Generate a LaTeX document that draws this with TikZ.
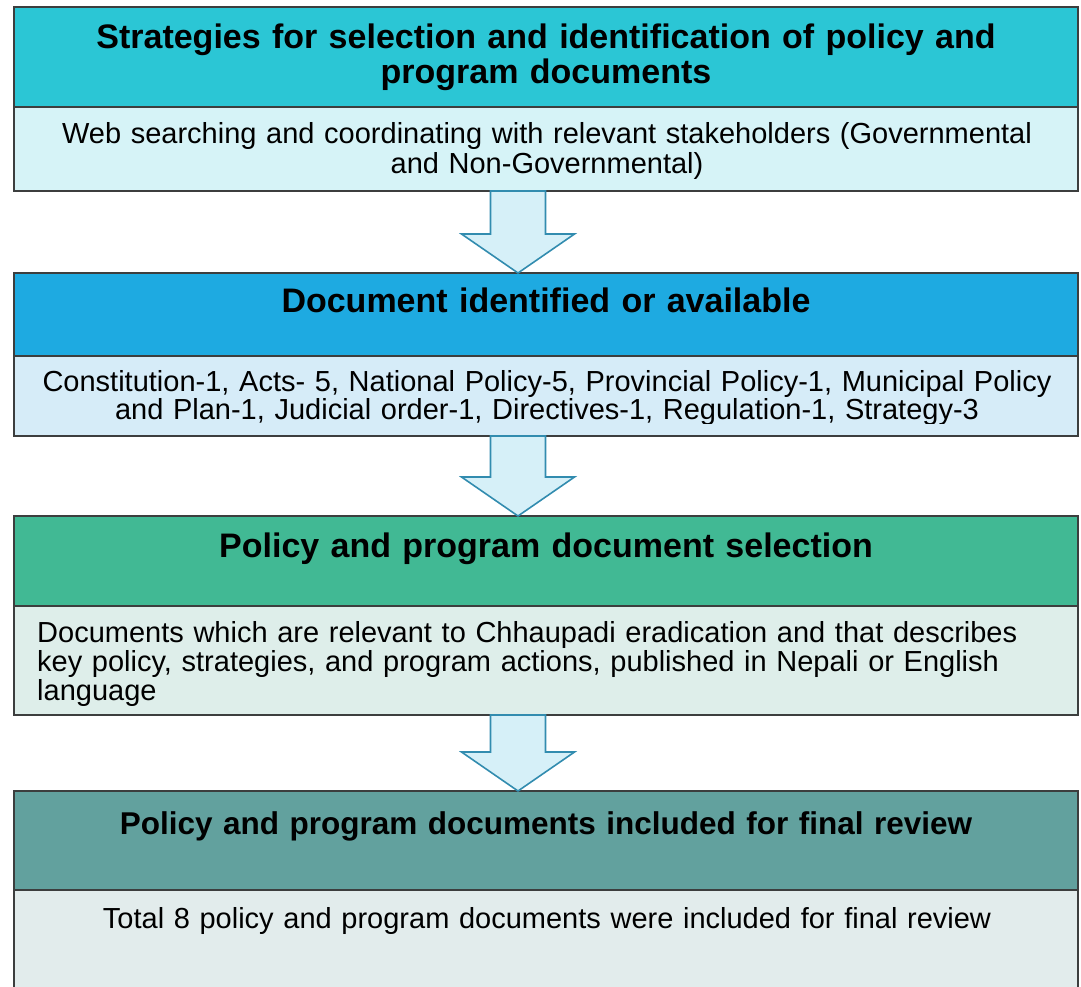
\documentclass[tikz,border=0pt]{standalone}
\usepackage{fontspec}
\setmainfont{Liberation Sans}
\usetikzlibrary{positioning, calc}
\definecolor{stratcyan}{RGB}{43,198,213}
\definecolor{stratlight}{RGB}{214,243,247}
\definecolor{docblue}{RGB}{30,170,225}
\definecolor{doclight}{RGB}{214,236,248}
\definecolor{selgreen}{RGB}{65,185,148}
\definecolor{sellight}{RGB}{222,238,234}
\definecolor{finalteal}{RGB}{98,161,158}
\definecolor{finallight}{RGB}{226,236,236}
\definecolor{boxline}{RGB}{60,62,62}
\definecolor{arrowfill}{RGB}{214,240,248}
\definecolor{arrowline}{RGB}{50,140,175}

\tikzset{
  stagebox/.style={draw=boxline, line width=1.6pt, rectangle, minimum width=1064pt,
    inner sep=0pt, outer sep=0pt},
  headtext/.style={font=\bfseries\fontsize{#1}{35}\selectfont, text width=1060pt,
    align=center, inner sep=0pt, anchor=base},
  headtext/.default=34,
  bodytext/.style={font=\fontsize{29}{#1}\selectfont, text width=1060pt,
    align=center, inner sep=0pt, anchor=base},
  bodytext/.default=30,
  flowarrow/.style={draw=arrowline, fill=arrowfill, line width=1.6pt, line join=miter}
}

% block arrow from the bottom of one stage to the top of the next
\newcommand{\blockarrow}[2]{%
  \draw[flowarrow] let \p1=($(#1.south west)+(504pt,0)$), \p2=($(#2.north west)+(504pt,0)$) in
    (\x1-27.5,\y1) -- (\x1+27.5,\y1) -- (\x1+27.5,\y2+39) -- (\x1+56.5,\y2+39)
    -- (\x1,\y2) -- (\x1-56.5,\y2+39) -- (\x1-27.5,\y2+39) -- cycle;
}

\begin{document}
\begin{tikzpicture}[x=1pt, y=-1pt]
\useasboundingbox (0,0) rectangle (1081,987);

% =============================================================================
% STAGE 1 : strategies
% =============================================================================
\node[stagebox, fill=stratcyan, minimum height=100pt, anchor=north west] (h1) at (14,7) {};
\node[stagebox, fill=stratlight, minimum height=84pt, below=0pt of h1] (b1) {};
\node[headtext] (h1text) at (546,49) {Strategies for selection and identification of policy and\\program documents};
\node[bodytext] (b1text) at (547,144) {Web searching and coordinating with relevant stakeholders (Governmental\\and Non-Governmental)};

% =============================================================================
% STAGE 2 : documents identified
% =============================================================================
\node[stagebox, fill=docblue, minimum height=83pt, anchor=north west] (h2) at (14,273) {};
\node[stagebox, fill=doclight, minimum height=80pt, below=0pt of h2] (b2) {};
\node[headtext] (h2text) at (546,312) {Document identified or available};
\begin{scope}
  % text runs past the lower margin and is cut there
  \clip ($(b2.north west)+(0,1pt)$) rectangle ($(b2.south east)+(0,13pt)$);
  \node[bodytext=27] (b2text) at (547,391) {Constitution-1, Acts- 5, National Policy-5, Provincial Policy-1, Municipal Policy\\and Plan-1, Judicial order-1, Directives-1, Regulation-1, Strategy-3};
\end{scope}

% =============================================================================
% STAGE 3 : selection
% =============================================================================
\node[stagebox, fill=selgreen, minimum height=90pt, anchor=north west] (h3) at (14,516) {};
\node[stagebox, fill=sellight, minimum height=109pt, below=0pt of h3] (b3) {};
\node[headtext] (h3text) at (546,557) {Policy and program document selection};
\begin{scope}
  \clip ($(b3.north west)+(0,1pt)$) rectangle ($(b3.south east)+(0,9pt)$);
  \node[bodytext=29, align=left, anchor=base west] (b3text) at (37,642) {Documents which are relevant to Chhaupadi eradication and that describes\\key policy, strategies, and program actions, published in Nepali or English\\language};
\end{scope}

% =============================================================================
% STAGE 4 : final review
% =============================================================================
\node[stagebox, fill=finalteal, minimum height=99pt, anchor=north west] (h4) at (14,791) {};
\node[stagebox, fill=finallight, minimum height=110pt, below=0pt of h4] (b4) {};
\node[headtext=31.5] (h4text) at (546,834) {Policy and program documents included for final review};
\node[bodytext] (b4text) at (547,928) {Total 8 policy and program documents were included for final review};

% =============================================================================
% ARROWS
% =============================================================================
\blockarrow{b1}{h2}
\blockarrow{b2}{h3}
\blockarrow{b3}{h4}

\end{tikzpicture}
\end{document}
